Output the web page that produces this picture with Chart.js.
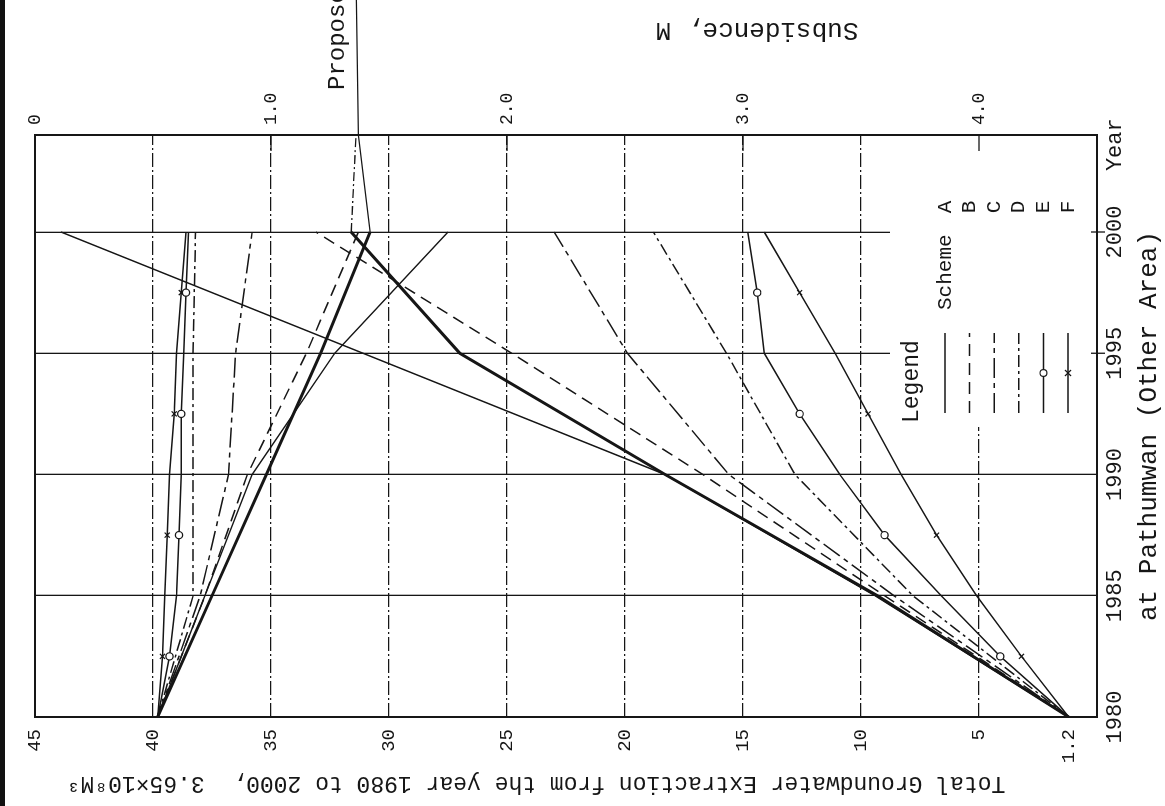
<!DOCTYPE html>
<html>
<head>
<meta charset="utf-8">
<title>Subsidence and groundwater extraction at Pathumwan</title>
<script src="https://cdn.jsdelivr.net/npm/chart.js@4.4.1/dist/chart.umd.min.js"></script>
<style>
    html, body { margin: 0; padding: 0; background: #fff; overflow: hidden; }
    body { width: 1165px; height: 806px; position: relative; }
    /* the figure is printed sideways: draw it upright, then turn it */
    #wrap {
        position: absolute; left: 0; top: 0;
        width: 806px; height: 1165px;
        transform-origin: 0 0;
        transform: translateY(806px) rotate(-90deg);
    }
    #edge { position: absolute; left: 0; top: 0; width: 5px; height: 806px; background: #111; }
</style>
</head>
<body>
<div id="wrap"><canvas id="chart" width="806" height="1165"></canvas></div>
<div id="edge"></div>
<script>
// years
const years = [1980, 1985, 1990, 1995, 2000];
const markYears = [1982.5, 1987.5, 1992.5, 1997.5];
const proposedYears = [1980, 1985, 1990, 1995, 2000, 2004];

// tick labels
const yearTicks = [1980, 1985, 1990, 1995, 2000];
const yearTitlePos = 2003.6;
const extractionTicks = [45, 40, 35, 30, 25, 20, 15, 10, 5, 1.2];
const subsidenceTicks = [0, 1, 2, 3, 4];
const subsidenceLabels = ['0', '1.0', '2.0', '3.0', '4.0'];
const schemes = ['A', 'B', 'C', 'D', 'E', 'F'];

// total groundwater extraction (x 3.65x10^8 m3)
const extrA = [1.2, 9.4, 18.3, 31.1, 43.9];
const extrB = [1.2, 9.0, 16.7, 24.8, 33.1];
const extrC = [1.2, 8.6, 15.6, 19.9, 23.0];
const extrD = [1.2, 7.8, 12.8, 15.7, 18.8];
const extrE = [1.2, 6.6, 10.9, 14.1, 14.8];
const extrEMarks = [4.1, 9.0, 12.6, 14.4];
const extrF = [1.2, 5.1, 8.3, 11.1, 14.1];
const extrFMarks = [3.2, 6.8, 9.7, 12.6];
const extrProposed = [1.2, 9.3, 18.3, 27.0, 31.6, 31.4];

// subsidence (m)
const subsA = [0.52, 0.72, 0.92, 1.27, 1.75];
const subsB = [0.52, 0.72, 0.90, 1.15, 1.37];
const subsC = [0.52, 0.70, 0.82, 0.85, 0.92];
const subsD = [0.52, 0.67, 0.67, 0.67, 0.68];
const subsE = [0.52, 0.60, 0.62, 0.63, 0.65];
const subsEMarks = [0.57, 0.61, 0.62, 0.64];
const subsF = [0.52, 0.55, 0.57, 0.60, 0.64];
const subsFMarks = [0.54, 0.56, 0.59, 0.62];
const subsProposed = [0.52, 0.75, 0.98, 1.21, 1.42, 1.37];

const INK = '#161616';
const FONT = '"Liberation Mono", "DejaVu Sans Mono", monospace';

const lineDash = { A: [], B: [12, 7], C: [20, 5, 5, 5], D: [12, 4, 3, 4], E: [], F: [] };
const markStyle = { E: 'circle', F: 'crossRot' };

function series(xs, ys) {
    return xs.map(function(x, i) { return { x: x, y: ys[i] }; });
}

function withMarks(xs, ys, mxs, mys) {
    return series(xs, ys).concat(series(mxs, mys)).sort(function(p, q) { return p.x - q.x; });
}

const extrData = {
    A: series(years, extrA),
    B: series(years, extrB),
    C: series(years, extrC),
    D: series(years, extrD),
    E: withMarks(years, extrE, markYears, extrEMarks),
    F: withMarks(years, extrF, markYears, extrFMarks)
};
const subsData = {
    A: series(years, subsA),
    B: series(years, subsB),
    C: series(years, subsC),
    D: series(years, subsD),
    E: withMarks(years, subsE, markYears, subsEMarks),
    F: withMarks(years, subsF, markYears, subsFMarks)
};

function schemeLine(s, data, axis) {
    return {
        label: 'Scheme ' + s,
        data: data,
        yAxisID: axis,
        borderColor: INK,
        borderWidth: 1.5,
        borderDash: lineDash[s],
        tension: 0,
        pointStyle: markStyle[s] || 'circle',
        pointRadius: function(c) {
            return markStyle[s] && c.raw && markYears.indexOf(c.raw.x) >= 0 ? 3.6 : 0;
        },
        pointBackgroundColor: '#fff',
        pointBorderColor: INK,
        pointBorderWidth: 1.2
    };
}

const datasets = [];
schemes.forEach(function(s) {
    datasets.push(schemeLine(s, extrData[s], 'y'));
    datasets.push(schemeLine(s, subsData[s], 'y2'));
});

// thick curves, kept on after 2000 as a thin line
datasets.push({
    label: 'Proposed extraction',
    data: series(proposedYears, extrProposed),
    yAxisID: 'y',
    borderColor: INK,
    borderWidth: 3,
    pointRadius: 0,
    segment: {
        borderWidth: function(c) { return c.p0.parsed.x >= 2000 ? 1.3 : undefined; },
        borderDash: function(c) { return c.p0.parsed.x >= 2000 ? [9, 3, 2, 3] : undefined; }
    }
});
datasets.push({
    label: 'Proposed subsidence',
    data: series(proposedYears, subsProposed),
    yAxisID: 'y2',
    borderColor: INK,
    borderWidth: 3,
    pointRadius: 0,
    segment: {
        borderWidth: function(c) { return c.p0.parsed.x >= 2000 ? 1.3 : undefined; }
    }
});
const proposedSubsIndex = datasets.length - 1;

const extractionTitle = 'Total Groundwater Extraction from the year 1980 to 2000,  3.65\u00d710\u2078M\u00b3';
const subsidenceTitle = 'Subsidence, M';
const placeTitle = 'at Pathumwan (Other Area)';

const figureText = {
    id: 'figureText',
    beforeDatasetsDraw: function(chart) {
        // the legend sits in a clear patch with no grid
        const a = chart.chartArea;
        const ctx = chart.ctx;
        ctx.save();
        ctx.fillStyle = '#fff';
        ctx.fillRect(a.right - 292, a.bottom - 207, 291, 206);
        ctx.restore();
    },
    afterDraw: function(chart) {
        const a = chart.chartArea;
        const ctx = chart.ctx;
        const xs = chart.scales.x;
        const ys2 = chart.scales.y2;
        ctx.save();
        ctx.strokeStyle = INK;
        ctx.fillStyle = INK;

        // frame
        ctx.lineWidth = 2;
        ctx.strokeRect(a.left, a.top, a.right - a.left, a.bottom - a.top);

        // short ticks where the grid is cut away
        ctx.lineWidth = 1.3;
        [1995, 2000].forEach(function(v) {
            const px = xs.getPixelForValue(v);
            ctx.beginPath();
            ctx.moveTo(px, a.bottom - 6);
            ctx.lineTo(px, a.bottom + 8);
            ctx.stroke();
        });
        subsidenceTicks.forEach(function(v) {
            if (v === 0) return;
            const py = ys2.getPixelForValue(v);
            ctx.beginPath();
            ctx.moveTo(a.right, py);
            ctx.lineTo(a.right - 16, py);
            ctx.stroke();
        });

        // legend
        const lx0 = a.right - 278;
        const lx1 = a.right - 198;
        ctx.textBaseline = 'middle';
        ctx.textAlign = 'left';
        ctx.font = '23px ' + FONT;
        ctx.fillText('Legend', a.right - 288, a.bottom - 185);
        ctx.font = '21px ' + FONT;
        ctx.fillText('Scheme', a.right - 175, a.bottom - 152);
        schemes.forEach(function(s, i) {
            const y = a.bottom - 152 + i * 24.6;
            ctx.lineWidth = 1.5;
            ctx.setLineDash(lineDash[s]);
            ctx.beginPath();
            ctx.moveTo(lx0, y);
            ctx.lineTo(lx1, y);
            ctx.stroke();
            ctx.setLineDash([]);
            const cx = (lx0 + lx1) / 2;
            if (s === 'E') {
                ctx.beginPath();
                ctx.arc(cx, y, 3.4, 0, Math.PI * 2);
                ctx.fillStyle = '#fff';
                ctx.fill();
                ctx.lineWidth = 1.2;
                ctx.stroke();
                ctx.fillStyle = INK;
            }
            if (s === 'F') {
                ctx.lineWidth = 1.2;
                ctx.beginPath();
                ctx.moveTo(cx - 3, y - 3); ctx.lineTo(cx + 3, y + 3);
                ctx.moveTo(cx + 3, y - 3); ctx.lineTo(cx - 3, y + 3);
                ctx.stroke();
            }
            ctx.textAlign = 'center';
            ctx.font = '21px ' + FONT;
            ctx.fillText(s, a.right - 72, y);
            ctx.textAlign = 'left';
        });

        // axis titles that run the other way round
        ctx.textAlign = 'center';
        ctx.save();
        ctx.translate(23, (a.top + a.bottom) / 2 - 30);
        ctx.rotate(-Math.PI / 2);
        ctx.font = '23px ' + FONT;
        ctx.fillText(extractionTitle, 0, 0);
        ctx.restore();

        ctx.save();
        ctx.translate(a.right + 105, a.top + 722);
        ctx.rotate(-Math.PI / 2);
        ctx.font = '26px ' + FONT;
        ctx.fillText(subsidenceTitle, 0, 0);
        ctx.restore();

        // label of the proposed curve, running off the page
        const meta = chart.getDatasetMeta(proposedSubsIndex);
        const last = meta.data[meta.data.length - 1];
        ctx.lineWidth = 1.2;
        ctx.beginPath();
        ctx.moveTo(last.x, last.y);
        ctx.lineTo(chart.width, last.y - 2);
        ctx.stroke();
        ctx.textAlign = 'left';
        ctx.font = '24px ' + FONT;
        ctx.fillText('Proposed', a.right + 45, last.y - 21);

        ctx.restore();
    }
};

new Chart(document.getElementById('chart'), {
    type: 'line',
    data: { datasets: datasets },
    options: {
        responsive: false,
        animation: false,
        devicePixelRatio: 1,
        layout: { padding: { top: 35, left: 0, right: 0, bottom: 0 } },
        plugins: {
            legend: { display: false },
            tooltip: { enabled: false }
        },
        scales: {
            x: {
                type: 'linear',
                position: 'bottom',
                min: 1980,
                max: 2004,
                afterBuildTicks: function(scale) {
                    scale.ticks = yearTicks.concat([yearTitlePos]).map(function(v) { return { value: v }; });
                },
                afterFit: function(scale) { scale.height = 68; },
                ticks: {
                    autoSkip: false,
                    maxRotation: 0,
                    padding: 5,
                    color: INK,
                    font: { family: FONT, size: 22 },
                    callback: function(v) { return v === yearTitlePos ? 'Year' : String(v); }
                },
                grid: {
                    drawTicks: false,
                    lineWidth: 1.3,
                    color: function(c) {
                        const v = c.tick && c.tick.value;
                        return v > 1980 && v <= 2000 ? INK : 'rgba(0,0,0,0)';
                    }
                },
                border: { display: false },
                title: {
                    display: true,
                    text: placeTitle,
                    color: INK,
                    font: { family: FONT, size: 26 },
                    padding: { top: 0, bottom: 0 }
                }
            },
            y: {
                type: 'linear',
                position: 'left',
                min: 0,
                max: 45,
                afterBuildTicks: function(scale) {
                    scale.ticks = extractionTicks.map(function(v) { return { value: v }; });
                },
                afterFit: function(scale) { scale.width = 89; },
                ticks: {
                    autoSkip: false,
                    padding: 12,
                    color: INK,
                    font: { family: FONT, size: 19 },
                    callback: function(v) { return String(v); }
                },
                grid: {
                    drawTicks: false,
                    lineWidth: 1.2,
                    color: function(c) {
                        const v = c.tick && c.tick.value;
                        return v >= 5 && v < 45 ? INK : 'rgba(0,0,0,0)';
                    }
                },
                border: { display: false, dash: [14, 3, 2, 3] }
            },
            y2: {
                type: 'linear',
                position: 'right',
                min: 0,
                max: 4.5,
                reverse: true,
                afterBuildTicks: function(scale) {
                    scale.ticks = subsidenceTicks.map(function(v) { return { value: v }; });
                },
                afterFit: function(scale) { scale.width = 135; },
                ticks: {
                    autoSkip: false,
                    padding: 10,
                    color: INK,
                    font: { family: FONT, size: 18 },
                    callback: function(v) { return subsidenceLabels[subsidenceTicks.indexOf(v)]; }
                },
                grid: { display: false, drawTicks: false },
                border: { display: false }
            }
        }
    },
    plugins: [figureText]
});
</script>
</body>
</html>
